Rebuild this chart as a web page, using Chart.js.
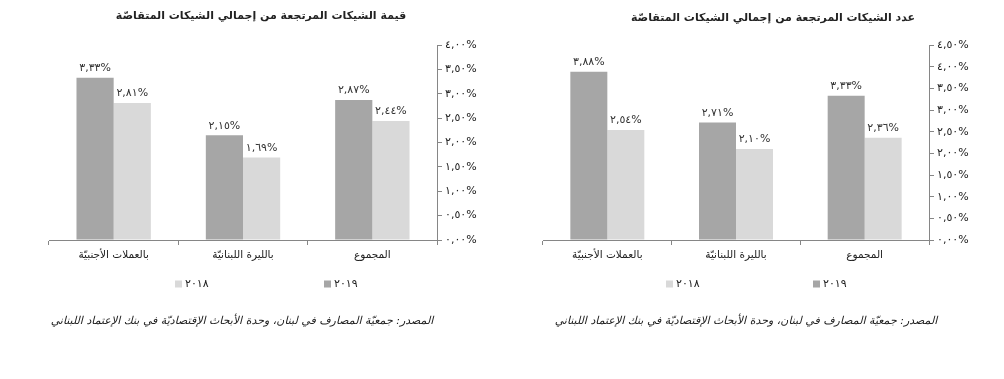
<!DOCTYPE html>
<html><head><meta charset="utf-8">
<script src="https://cdn.jsdelivr.net/npm/chart.js@4.4.1/dist/chart.umd.min.js"></script>
<style>
body{margin:0;background:#fff;width:1004px;height:379px;overflow:hidden;position:relative;font-family:"DejaVu Sans",sans-serif;color:#222;}
canvas{position:absolute;top:0;}
.t{position:absolute;white-space:nowrap;transform:translate(-50%,-50%);}
.title{font-weight:bold;font-size:11px;direction:rtl;}
.src{font-style:italic;font-size:11px;direction:rtl;}
.leg{font-size:11px;letter-spacing:1px;transform:translate(0,-50%);}
.leg i{display:inline-block;width:7px;height:7px;margin-right:3px;vertical-align:middle;}
</style></head><body>
<div id="lw" style="position:absolute;left:0;top:0;width:500px;height:379px;"><canvas id="c1" width="500" height="379"></canvas></div>
<div id="rw" style="position:absolute;left:500px;top:0;width:504px;height:379px;"><canvas id="c2" width="504" height="379"></canvas></div>
<script>
// ---- data ----
const categories = ['بالعملات الأجنبيّة', 'بالليرة اللبنانيّة', 'المجموع'];
const seriesNames = ['٢٠١٩', '٢٠١٨'];
const value2019 = [3.33, 2.15, 2.87];
const value2018 = [2.81, 1.69, 2.44];
const count2019 = [3.88, 2.71, 3.33];
const count2018 = [2.54, 2.10, 2.36];
const titleValue = 'قيمة الشيكات المرتجعة من إجمالي الشيكات المتقاصّة';
const titleCount = 'عدد الشيكات المرتجعة من إجمالي الشيكات المتقاصّة';
const sourceText = 'المصدر: جمعيّة المصارف في لبنان، وحدة الأبحاث الإقتصاديّة في بنك الإعتماد اللبناني';
const valueAxisMax = 4.0;
const countAxisMax = 4.5;
const axisStep = 0.5;

const AR = '٠١٢٣٤٥٦٧٨٩';
function fmt(v){ return Number(v).toFixed(2).replace(/\d/g, d => AR[d]).replace('.', ',') + '%'; }

const COL19 = '#a6a6a6', COL18 = '#d9d9d9', AXIS = '#868686';

const labelPlugin = {
  id: 'vals',
  afterDatasetsDraw(chart){
    const ctx = chart.ctx; ctx.save();
    ctx.font = '11px "DejaVu Sans"'; ctx.fillStyle = '#333';
    ctx.textAlign = 'center'; ctx.textBaseline = 'bottom';
    chart.data.datasets.forEach((ds, i) => {
      chart.getDatasetMeta(i).data.forEach((bar, j) => {
        ctx.fillText(fmt(ds.data[j]), bar.x, bar.y - 4);
      });
    });
    ctx.restore();
  }
};

function makeChart(id, d19, d18, max, pad){
  new Chart(document.getElementById(id), {
    type: 'bar',
    data: { labels: categories, datasets: [
      { label: seriesNames[0], data: d19, backgroundColor: COL19, categoryPercentage: 0.575, barPercentage: 1.0 },
      { label: seriesNames[1], data: d18, backgroundColor: COL18, categoryPercentage: 0.575, barPercentage: 1.0 }
    ]},
    options: {
      responsive: false, animation: false, devicePixelRatio: 1,
      layout: { padding: pad },
      plugins: { legend: { display: false }, title: { display: false }, tooltip: { enabled: false } },
      scales: {
        x: {
          grid: { offset: true, drawOnChartArea: false, tickLength: 5, color: AXIS },
          border: { color: AXIS },
          ticks: { color: '#222', font: { family: 'DejaVu Sans', size: 10.5 }, maxRotation: 0, padding: 4 },
          afterFit(s){ s.height = 28; }
        },
        y: {
          position: 'right', min: 0, max: max,
          grid: { drawOnChartArea: false, tickLength: 5, color: AXIS },
          border: { color: AXIS },
          ticks: { stepSize: axisStep, color: '#222', font: { family: 'DejaVu Sans', size: 11 }, padding: 3, callback: v => fmt(v) },
          afterFit(s){ s.width = 55; }
        }
      }
    },
    plugins: [labelPlugin]
  });
}

makeChart('c1', value2019, value2018, valueAxisMax, { left: 49, right: 8, top: 45, bottom: 111 });
makeChart('c2', count2019, count2018, countAxisMax, { left: 43, right: 20, top: 45, bottom: 111 });

function addText(parent, cls, text, x, y){
  const d = document.createElement('div'); d.className = 't ' + cls; d.textContent = text;
  d.style.left = x + 'px'; d.style.top = y + 'px'; parent.appendChild(d); return d;
}
function addLegend(parent, x, y, color, text){
  const d = document.createElement('div'); d.className = 't leg';
  d.style.left = x + 'px'; d.style.top = y + 'px';
  const i = document.createElement('i'); i.style.background = color; d.appendChild(i);
  d.appendChild(document.createTextNode(text)); parent.appendChild(d);
}
const lw = document.getElementById('lw'), rw = document.getElementById('rw');
addText(lw, 'title', titleValue, 261, 15);
addText(rw, 'title', titleCount, 273, 17);
addText(lw, 'src', sourceText, 242, 320);
addText(rw, 'src', sourceText, 246, 320);
addLegend(lw, 175, 283, COL18, seriesNames[1]);
addLegend(lw, 324, 283, COL19, seriesNames[0]);
addLegend(rw, 166, 283, COL18, seriesNames[1]);
addLegend(rw, 313, 283, COL19, seriesNames[0]);
</script>
</body></html>
